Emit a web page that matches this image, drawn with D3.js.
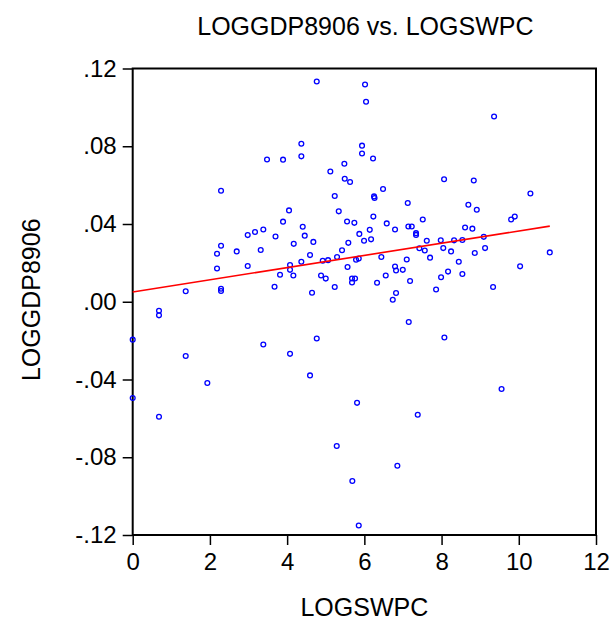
<!DOCTYPE html>
<html>
<head>
<meta charset="utf-8">
<script src="https://cdn.jsdelivr.net/npm/d3@7/dist/d3.min.js"></script>
<style>
  html, body { margin: 0; padding: 0; background: #ffffff; }
  svg { display: block; }
  text { font-family: "Liberation Sans", Arial, sans-serif; fill: #000; }
</style>
</head>
<body>
<svg id="chart" width="614" height="626"></svg>
<script>
// LOGSWPC (x) and LOGGDP8906 (y) for each country observation
const logswpc = [
  4.767, 6.018, 6.044, 4.368, 5.940, 5.940, 3.479, 3.894, 4.368, 5.119,
  5.482, 5.492, 5.630, 5.233, 5.337, 2.288, 4.049, 3.894, 4.404, 4.456,
  3.383, 3.168, 2.979, 3.699, 5.552, 5.741, 5.870, 5.992, 5.585, 5.422,
  5.293, 4.679, 4.171, 4.593, 4.368, 4.922, 5.060, 5.785, 5.855, 5.565,
  2.288, 2.184, 2.694, 3.316, 2.184, 2.979, 4.075, 4.075, 3.816, 4.161,
  4.878, 5.000, 5.681, 5.759, 5.681, 3.674, 5.233, 1.373, 2.288, 2.288,
  4.645, 9.360, 6.225, 8.065, 8.834, 10.301, 6.484, 6.251, 6.264, 7.124,
  8.694, 8.912, 9.801, 9.896, 6.233, 7.513, 6.580, 7.140, 7.228, 8.609,
  8.798, 6.795, 6.140, 7.339, 7.339, 6.174, 7.617, 7.979, 8.324, 8.539,
  9.093, 8.044, 7.425, 7.565, 8.246, 8.860, 9.127, 10.803, 6.440, 7.702,
  7.098, 8.446, 10.034, 6.795, 6.821, 6.995, 8.168, 6.554, 7.987, 8.539,
  7.184, 6.329, 7.858, 9.334, 6.821, 6.736, 0.681, 0.681, 0.000, 3.383,
  4.075, 4.767, 1.373, 4.593, 1.933, 0.000, 0.681, 5.811, 5.285, 5.689,
  5.855, 7.150, 8.073, 9.554, 7.383, 6.855
];
const loggdp8906 = [
  0.1133, 0.1118, 0.1029, 0.0813, 0.0803, 0.0763, 0.0732, 0.0731, 0.0748, 0.0670,
  0.0710, 0.0633, 0.0616, 0.0544, 0.0465, 0.0571, 0.0470, 0.0412, 0.0386, 0.0340,
  0.0372, 0.0359, 0.0343, 0.0336, 0.0413, 0.0406, 0.0349, 0.0314, 0.0303, 0.0265,
  0.0230, 0.0308, 0.0298, 0.0240, 0.0206, 0.0211, 0.0214, 0.0216, 0.0222, 0.0179,
  0.0288, 0.0247, 0.0259, 0.0266, 0.0171, 0.0184, 0.0189, 0.0164, 0.0139, 0.0135,
  0.0135, 0.0119, 0.0120, 0.0120, 0.0099, 0.0077, 0.0076, 0.0054, 0.0067, 0.0055,
  0.0046, 0.0953, 0.0737, 0.0630, 0.0624, 0.0557, 0.0580, 0.0542, 0.0534, 0.0508,
  0.0499, 0.0473, 0.0423, 0.0438, 0.0438, 0.0423, 0.0403, 0.0387, 0.0387, 0.0382,
  0.0376, 0.0372, 0.0370, 0.0353, 0.0344, 0.0321, 0.0314, 0.0316, 0.0316, 0.0318,
  0.0334, 0.0276, 0.0275, 0.0264, 0.0259, 0.0251, 0.0276, 0.0254, 0.0230, 0.0227,
  0.0217, 0.0206, 0.0182, 0.0181, 0.0161, 0.0164, 0.0155, 0.0135, 0.0126, 0.0143,
  0.0107, 0.0098, 0.0063, 0.0076, 0.0045, 0.0010, -0.0046, -0.0070, -0.0195, -0.0220,
  -0.0268, -0.0189, -0.0279, -0.0379, -0.0418, -0.0495, -0.0592, -0.0520, -0.0742, -0.0922,
  -0.1151, -0.0104, -0.0184, -0.0449, -0.0581, -0.0844
];

// Least-squares fit line: LOGGDP8906 = intercept + slope * LOGSWPC
const fitIntercept = 0.0050;
const fitSlope = 0.00314;

// Axis ticks
const xTicks = [0, 2, 4, 6, 8, 10, 12];
const xTickLabels = ["0", "2", "4", "6", "8", "10", "12"];
const yTicks = [-0.12, -0.08, -0.04, 0, 0.04, 0.08, 0.12];
const yTickLabels = ["-.12", "-.08", "-.04", ".00", ".04", ".08", ".12"];

const titleText = "LOGGDP8906 vs. LOGSWPC";
const xTitle = "LOGSWPC";
const yTitle = "LOGGDP8906";

const svg = d3.select("#chart");
const plot = { left: 132.7, right: 596, top: 68.5, bottom: 535 };
const tickFontSize = 24;
const titleFontSize = 25;

const x = d3.scaleLinear().domain([0, 12]).range([plot.left, plot.right]);
const y = d3.scaleLinear().domain([-0.12, 0.12]).range([plot.bottom, plot.top]);

// Axes (tick marks point outward, labels from the label arrays)
const xAxis = d3.axisBottom(x)
  .tickValues(xTicks)
  .tickFormat((d, i) => xTickLabels[i])
  .tickSize(10)
  .tickPadding(8);
const yAxis = d3.axisLeft(y)
  .tickValues(yTicks)
  .tickFormat((d, i) => yTickLabels[i])
  .tickSize(10)
  .tickPadding(6);

const gx = svg.append("g").attr("transform", `translate(0,${plot.bottom})`).call(xAxis);
const gy = svg.append("g").attr("transform", `translate(${plot.left},0)`).call(yAxis);
[gx, gy].forEach(g => {
  g.select(".domain").remove();
  g.selectAll(".tick line").attr("stroke", "#000").attr("stroke-width", 1.5);
  g.selectAll(".tick text")
    .attr("fill", "#000")
    .style("font-size", tickFontSize + "px")
    .style("font-family", '"Liberation Sans", Arial, sans-serif');
});

// Plot frame
svg.append("rect")
  .attr("x", plot.left)
  .attr("y", plot.top)
  .attr("width", plot.right - plot.left)
  .attr("height", plot.bottom - plot.top)
  .attr("fill", "none")
  .attr("stroke", "#000")
  .attr("stroke-width", 2);

// Scatter points
const pts = logswpc.map((v, i) => ({ x: v, y: loggdp8906[i] }));
svg.append("g")
  .selectAll("circle")
  .data(pts)
  .join("circle")
  .attr("cx", d => x(d.x))
  .attr("cy", d => y(d.y))
  .attr("r", 2.4)
  .attr("fill", "none")
  .attr("stroke", "#0000ff")
  .attr("stroke-width", 1.3);

// Regression line across the observed LOGSWPC range
const [xMin, xMax] = d3.extent(logswpc);
const fitLine = d3.line().x(d => x(d)).y(d => y(fitIntercept + fitSlope * d));
svg.append("path")
  .attr("d", fitLine([xMin, xMax]))
  .attr("fill", "none")
  .attr("stroke", "#ff0000")
  .attr("stroke-width", 1.6);

// Titles
const cx = (plot.left + plot.right) / 2;
const cy = (plot.top + plot.bottom) / 2;
svg.append("text")
  .attr("x", cx + 1).attr("y", 35)
  .attr("text-anchor", "middle")
  .style("font-size", titleFontSize + "px")
  .text(titleText);
svg.append("text")
  .attr("x", cx).attr("y", 616)
  .attr("text-anchor", "middle")
  .style("font-size", titleFontSize + "px")
  .text(xTitle);
svg.append("text")
  .attr("transform", `translate(40,${cy - 2}) rotate(-90)`)
  .attr("text-anchor", "middle")
  .style("font-size", titleFontSize + "px")
  .text(yTitle);
</script>
</body>
</html>
